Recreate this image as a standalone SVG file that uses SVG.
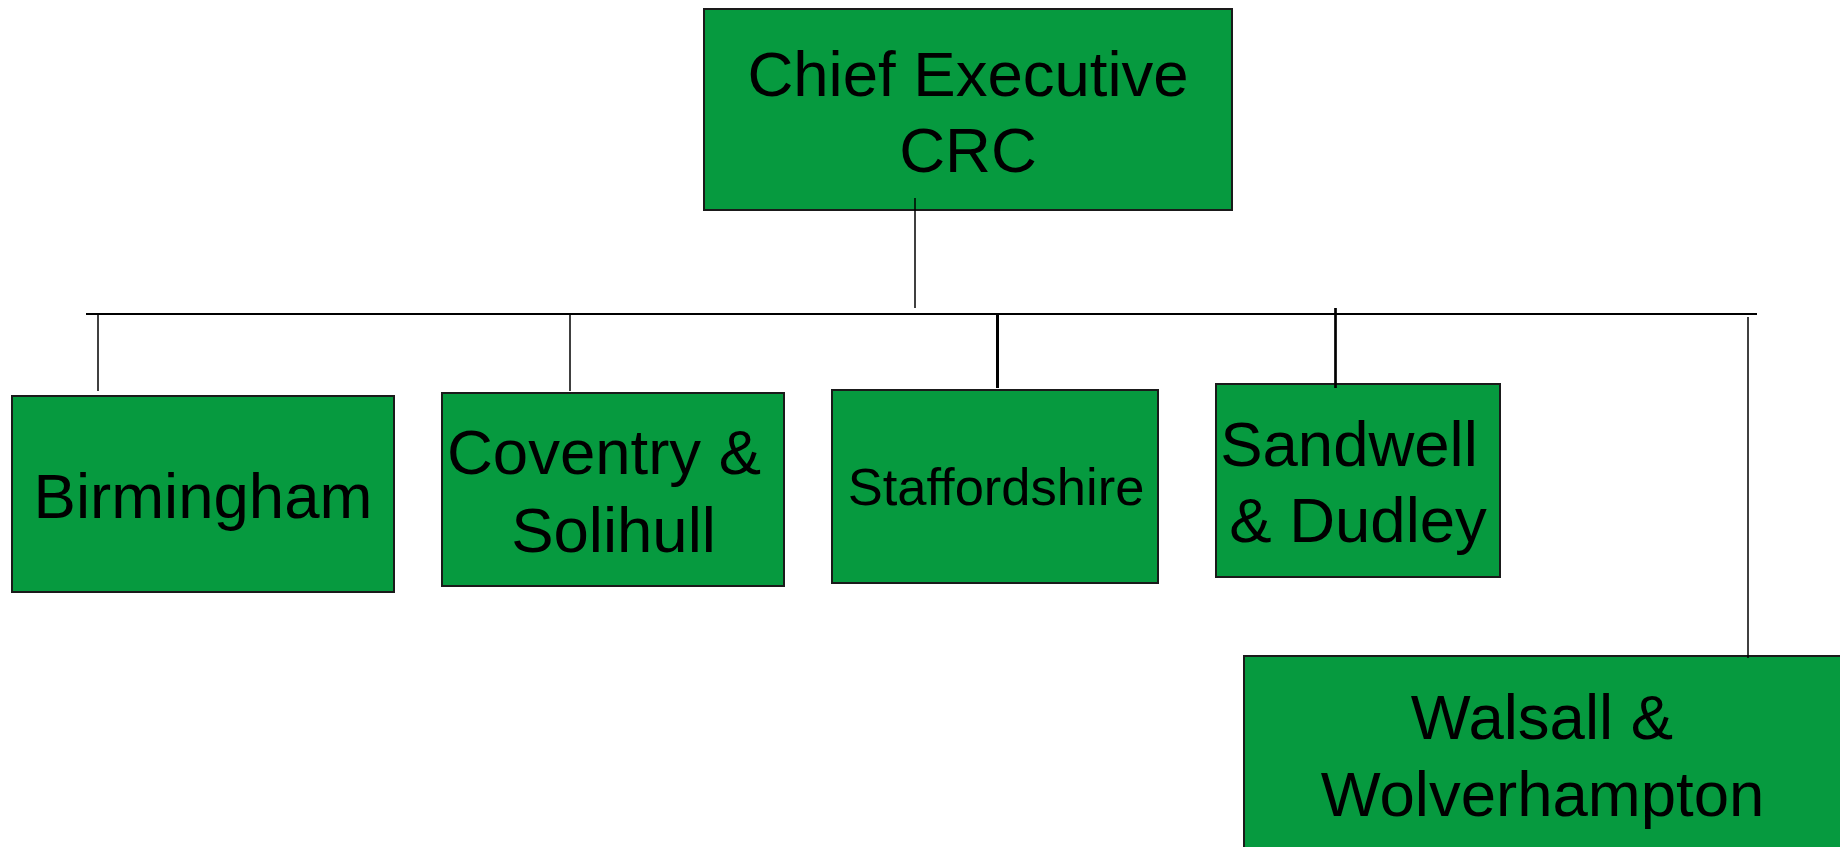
<svg xmlns="http://www.w3.org/2000/svg" width="1840" height="847" viewBox="0 0 1840 847">
<style>
.box{fill:#069A3F;stroke:#1a1a1a;stroke-width:2}
.lbl{font-family:"Liberation Sans",Arial,sans-serif;font-size:63.5px;fill:#000;text-anchor:middle}
.sm{font-size:52.5px}
.c{stroke:#000;fill:none}
</style>
<rect width="1840" height="847" fill="#fff"/>
<g id="chief">
<rect class="box" x="704" y="9" width="528" height="201"/>
<text class="lbl" x="968" y="96">Chief Executive</text>
<text class="lbl" x="968" y="172">CRC</text>
</g>
<g id="birmingham">
<rect class="box" x="12" y="396" width="382" height="196"/>
<text class="lbl" x="203" y="518">Birmingham</text>
</g>
<g id="coventry">
<rect class="box" x="442" y="393" width="342" height="193"/>
<text class="lbl" x="604" y="474">Coventry &amp;</text>
<text class="lbl" x="613.5" y="552">Solihull</text>
</g>
<g id="staffordshire">
<rect class="box" x="832" y="390" width="326" height="193"/>
<text class="lbl sm" x="996" y="505">Staffordshire</text>
</g>
<g id="sandwell">
<rect class="box" x="1216" y="384" width="284" height="193"/>
<text class="lbl" x="1349" y="466">Sandwell</text>
<text class="lbl" x="1358" y="542">&amp; Dudley</text>
</g>
<g id="walsall">
<rect class="box" x="1244" y="656" width="600" height="200"/>
<text class="lbl" x="1542" y="739">Walsall &amp;</text>
<text class="lbl" x="1542.5" y="816">Wolverhampton</text>
</g>
<g id="connectors">
<line class="c" x1="86" y1="314" x2="1757" y2="314" stroke-width="2"/>
<line class="c" x1="915" y1="198" x2="915" y2="308" stroke-width="1.5"/>
<line class="c" x1="98" y1="315" x2="98" y2="391" stroke-width="1.5"/>
<line class="c" x1="570" y1="315" x2="570" y2="391" stroke-width="1.5"/>
<line class="c" x1="997.5" y1="314" x2="997.5" y2="388" stroke-width="3"/>
<line class="c" x1="1335.5" y1="308" x2="1335.5" y2="388" stroke-width="2.7"/>
<line class="c" x1="1748" y1="317" x2="1748" y2="658" stroke-width="1.5"/>
</g>
</svg>
